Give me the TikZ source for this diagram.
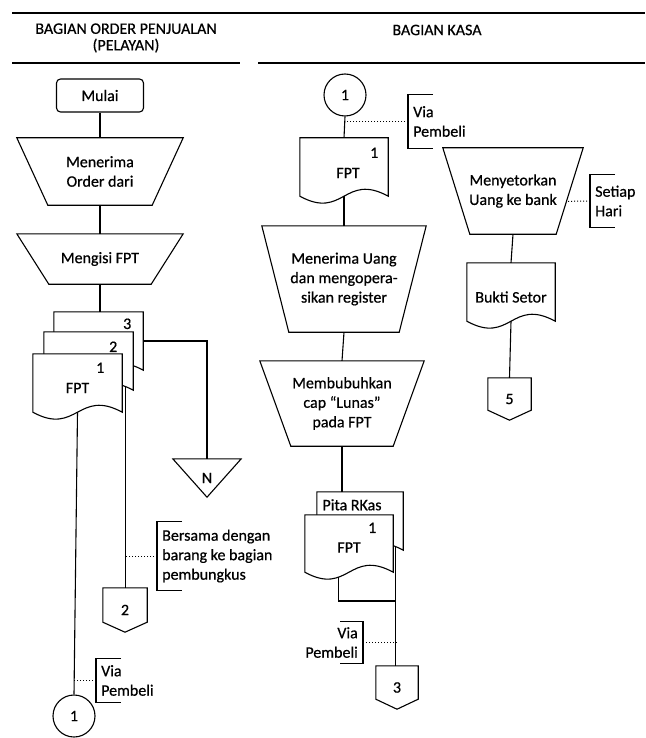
\documentclass[tikz,border=0pt]{standalone}
\usepackage{fontspec}
\setmainfont{Carlito}
\newfontfamily\flowfont{Carlito}[FakeBold=0.6]
\usetikzlibrary{calc}

\tikzset{
  conn/.style={line width=1.1pt},
  dots/.style={line width=1pt, dotted},
  rule/.style={line width=1.4pt},
  txt/.style={font=\flowfont\fontsize{16}{19.5}\selectfont, align=center, inner sep=0pt},
  head/.style={font=\flowfont\fontsize{16}{16.5}\selectfont, align=center, inner sep=0pt},
  docbox/.style={minimum width=88pt, minimum height=58pt, inner sep=0pt},
  pgbox/.style={txt, minimum width=43pt, minimum height=43pt},
  note/.style={txt, align=left, anchor=west, inner xsep=5pt}
}

% manual operation: wide top, narrow bottom
\newcommand{\manual}[2]{\draw[conn] (#1.north west) -- (#1.north east) -- ([xshift=-#2pt]#1.south east) -- ([xshift=#2pt]#1.south west) -- cycle;}
% document with wavy bottom
\newcommand{\docout}[1]{\draw[conn, fill=white] (#1.south east) -- (#1.north east) -- (#1.north west) -- (#1.south west) .. controls ($(#1.south west)+(44,24)$) and ($(#1.south east)+(-44,-24)$) .. (#1.south east) coordinate[pos=0.936] (#1-r) coordinate[pos=0.352] (#1-l) -- cycle;}
% off-page connector
\newcommand{\offpage}[1]{\draw[conn] (#1.north west) -- (#1.north east) -- ([yshift=10pt]#1.south east) -- (#1.south) -- ([yshift=10pt]#1.south west) -- cycle;}
% file (triangle)
\newcommand{\merge}[1]{\draw[conn] (#1.north west) -- (#1.north east) -- (#1.south) -- cycle;}
% annotation brackets
\newcommand{\lnote}[1]{\draw[conn] ([xshift=25pt]#1.north west) -- (#1.north west) -- (#1.south west) -- ([xshift=25pt]#1.south west);}
\newcommand{\rnote}[1]{\draw[conn] ([xshift=-23pt]#1.north east) -- (#1.north east) -- (#1.south east) -- ([xshift=-23pt]#1.south east);}

\begin{document}
\begin{tikzpicture}[x=1pt, y=-1pt]
  \useasboundingbox (0,0) rectangle (645,738);

  % Header
  \draw[rule] (12,13) -- (645,13);
  \node[head] (judul1) at (126,38) {BAGIAN ORDER PENJUALAN\\(PELAYAN)};
  \node[head] (judul2) at (437,30) {BAGIAN KASA};
  \draw[rule] (12,63) -- (240,63);
  \draw[rule] (258,63) -- (645,63);

  % Bagian order penjualan
  \node[txt, draw, conn, rounded corners=4pt, minimum width=87pt, minimum height=33pt] (mulai) at (100,95.5) {Mulai};
  \node[txt, minimum width=166pt, minimum height=67pt] (terima) at (100,171.5) {Menerima\\Order dari};
  \node[txt, minimum width=166pt, minimum height=50pt] (isi) at (100,259) {Mengisi FPT};
  \manual{terima}{31}
  \manual{isi}{32}
  \draw[conn] (mulai.south) -- (terima.north);
  \draw[conn] (terima.south) -- (isi.north);

  % FPT rangkap 3
  \node[docbox, minimum width=89pt] (d3) at (98.5,341) {};
  \node[docbox, minimum width=89pt] (d2) at (88.5,361) {};
  \node[docbox, minimum width=89pt] (d1) at (77.5,383) {};
  \docout{d3}
  \docout{d2}
  \docout{d1}
  \node[txt] (d3-n) at ($(d3.north east)+(-16,12)$) {3};
  \node[txt] (d2-n) at ($(d2.north east)+(-20,15)$) {2};
  \node[txt] (d1-n) at ($(d1.north east)+(-22,14)$) {1};
  \node[txt] (d1-t) at ($(d1)+(0,5)$) {FPT};
  \draw[conn] (isi.south) -- (isi.south |- d3.north);

  % Arsip dan konektor
  \node[txt, minimum width=68pt, minimum height=38pt] (ntri) at (207,478) {N};
  \merge{ntri}
  \draw[conn] (d3.east) -| (ntri.north);
  \node[pgbox, minimum width=44pt, minimum height=44pt] (p2) at (125,610) {2};
  \offpage{p2}
  \draw[conn] (d2-r) -- (d2-r |- p2.north);
  \node[txt, circle, draw, conn, minimum size=42pt] (c1) at (74,716) {1};
  \draw[conn] (d1.south) -- (c1.north);

  % Keterangan
  \node[note, minimum height=68pt] (bersama) at (157,556) {Bersama dengan\\barang ke bagian\\pembungkus};
  \lnote{bersama}
  \draw[dots] (bersama.west) -- (bersama.west -| p2.north);
  \node[note, minimum height=43pt] (via2) at (96,680.5) {Via\\Pembeli};
  \lnote{via2}
  \draw[dots] (via2.west) -- (via2.west -| c1.north);

  % Bagian kasa
  \node[txt, circle, draw, conn, minimum size=42pt] (kc1) at (345,95) {1};
  \node[docbox] (kfpt) at (344,167) {};
  \docout{kfpt}
  \node[txt] (kfpt-n) at ($(kfpt.north east)+(-14,15)$) {1};
  \node[txt] (kfpt-t) at ($(kfpt)+(4,6)$) {FPT};
  \draw[conn] (kc1.south) -- (kfpt.north);
  \node[note, minimum height=53pt] (via1) at (408,121.5) {Via\\Pembeli};
  \lnote{via1}
  \draw[dots] (via1.west) -- (via1.west -| kc1.south);

  \node[txt, minimum width=164pt, minimum height=106pt] (uang) at (344,279) {Menerima Uang\\dan mengopera-\\sikan register};
  \manual{uang}{27}
  \node[txt, minimum width=164pt, minimum height=85pt] (lunas) at (342,403.5) {Membubuhkan\\cap “Lunas”\\pada FPT};
  \manual{lunas}{31}
  \draw[conn] (kfpt.south) -- (uang.north);
  \draw[conn] (uang.south) -- (lunas.north);

  % Pita register dan FPT
  \node[docbox, minimum width=86pt] (rkas) at (360,521) {};
  \node[docbox, minimum height=57pt] (kfpt2) at (349,543.5) {};
  \docout{rkas}
  \docout{kfpt2}
  \node[txt] (rkas-t) at ($(rkas.north)+(-8,13)$) {Pita RKas};
  \node[txt] (kfpt2-n) at ($(kfpt2.north east)+(-21,13)$) {1};
  \node[txt] (kfpt2-t) at ($(kfpt2)+(0,4)$) {FPT};
  \draw[conn] (lunas.south) -- (lunas.south |- rkas.north);

  \node[pgbox, minimum width=42pt] (p3) at (397,687.5) {3};
  \offpage{p3}
  \coordinate (kas-bawah) at (rkas-r |- 0,601);
  \draw[conn] (rkas-r) -- (rkas-r |- p3.north);
  \draw[conn] (kfpt2-l) |- (kas-bawah);
  \node[note, anchor=east, align=right, minimum height=41pt] (via3) at (363,642.5) {Via\\Pembeli};
  \rnote{via3}
  \draw[dots] (via3.east) -- (via3.east -| p3.north);

  % Setoran ke bank
  \node[txt, minimum width=140pt, minimum height=86pt] (setor) at (513,191) {Menyetorkan\\Uang ke bank};
  \manual{setor}{27}
  \coordinate (setor-r) at ($(setor.north east)!0.62!([xshift=-27pt]setor.south east)$);
  \node[note, minimum height=52pt] (setiap) at (590,201) {Setiap\\Hari};
  \lnote{setiap}
  \draw[dots] (setiap.west) -- (setor-r);
  \node[docbox] (bukti) at (511,292) {};
  \docout{bukti}
  \node[txt] (bukti-t) at ($(bukti)+(0,5)$) {Bukti Setor};
  \draw[conn] (setor.south) -- (bukti.north);
  \node[pgbox, minimum height=42pt] (p5) at (509.5,399) {5};
  \offpage{p5}
  \draw[conn] (bukti.south) -- (p5.north);
\end{tikzpicture}
\end{document}
